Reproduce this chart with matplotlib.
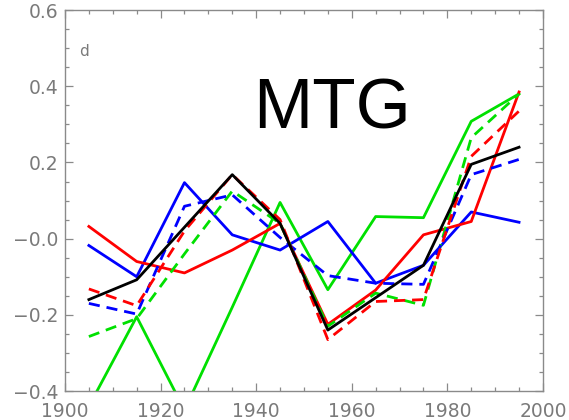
import numpy as np
import matplotlib.pyplot as plt
from matplotlib.ticker import MultipleLocator

# decade mid-points
years = [1905, 1915, 1925, 1935, 1945, 1955, 1965, 1975, 1985, 1995]

# solid lines
black_solid = [-0.16, -0.108, 0.03, 0.168, 0.04, -0.24, -0.155, -0.07, 0.195, 0.24]
red_solid = [0.032, -0.06, -0.09, -0.03, 0.04, -0.225, -0.135, 0.01, 0.045, 0.385]
blue_solid = [-0.018, -0.10, 0.147, 0.01, -0.03, 0.045, -0.117, -0.07, 0.07, 0.043]
green_solid = [-0.44, -0.205, -0.45, -0.18, 0.095, -0.134, 0.058, 0.055, 0.308, 0.38]

# dashed lines
red_dash = [-0.132, -0.176, 0.02, 0.168, 0.05, -0.265, -0.165, -0.16, 0.216, 0.335]
blue_dash = [-0.17, -0.198, 0.085, 0.115, 0.003, -0.097, -0.117, -0.12, 0.168, 0.208]
green_dash = [-0.257, -0.21, -0.04, 0.125, 0.04, -0.23, -0.143, -0.175, 0.265, 0.38]

x_ticks = [1900, 1920, 1940, 1960, 1980, 2000]
y_ticks = [-0.4, -0.2, 0.0, 0.2, 0.4, 0.6]
y_labels = ['\u22120.4', '\u22120.2', '\u22120.0', '0.2', '0.4', '0.6']

grey = '#8a8a8a'
lw = 2.0

fig = plt.figure(figsize=(5.69, 4.20), dpi=100)
ax = fig.add_axes([0.1142, 0.069, 0.840, 0.907])

ax.plot(years, green_solid, color='#00e000', lw=lw)
ax.plot(years, blue_solid, color='#0000ff', lw=lw)
ax.plot(years, red_solid, color='#ff0000', lw=lw)
ax.plot(years, green_dash, color='#00e000', lw=lw, dashes=(4, 2.5))
ax.plot(years, blue_dash, color='#0000ff', lw=lw, dashes=(4, 2.5))
ax.plot(years, red_dash, color='#ff0000', lw=lw, dashes=(4, 2.5))
ax.plot(years, black_solid, color='black', lw=lw)

ax.set_xlim(1900, 2000)
ax.set_ylim(-0.4, 0.6)
ax.set_xticks(x_ticks)
ax.set_yticks(y_ticks)
ax.set_yticklabels(y_labels)
ax.xaxis.set_minor_locator(MultipleLocator(5))
ax.yaxis.set_minor_locator(MultipleLocator(0.05))

ax.tick_params(which='both', direction='in', top=True, right=True,
               color=grey, labelcolor='#7a7a7a', labelsize=13.5, width=0.9)
ax.tick_params(which='major', length=6)
ax.tick_params(which='minor', length=3)
ax.tick_params(axis='x', which='major', pad=8)
ax.tick_params(axis='y', which='major', pad=5)
for sp in ax.spines.values():
    sp.set_color(grey)
    sp.set_linewidth(1.0)

ax.text(0.03, 0.88, 'd', transform=ax.transAxes, color='#7a7a7a', fontsize=11)
fig.text(0.445, 0.695, 'MTG', fontsize=51, color='black', family='Liberation Sans')

fig.savefig('out.png', dpi=100)
